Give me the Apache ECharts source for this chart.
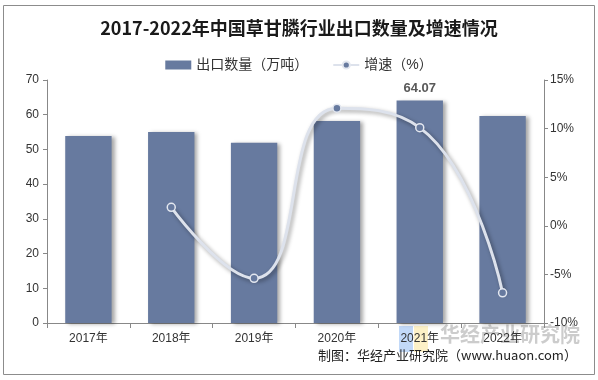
<!DOCTYPE html>
<html><head><meta charset="utf-8">
<script src="https://cdn.jsdelivr.net/npm/echarts@6/dist/echarts.min.js"></script>
<style>html,body{margin:0;padding:0;background:#fff}#c{width:598px;height:380px}</style>
</head><body><div id="c"></div>
<script>
const categories = ['2017年','2018年','2019年','2020年','2021年','2022年'];
const exportVolume = [53.9, 55.0, 51.9, 58.2, 64.07, 59.6];
const growthRate = [null, 1.9, -5.4, 12.1, 10.1, -6.9];
const leftTicks = {min:0, max:70, interval:10};
const rightTicks = {min:-10, max:15, interval:5};

const chart = echarts.init(document.getElementById('c'));
const font = '"Liberation Sans", Arial, "Noto Sans CJK SC", sans-serif';
chart.setOption({
  animation:false,
  title:{text:'2017-2022年中国草甘膦行业出口数量及增速情况', left:'center', top:14,
    textStyle:{fontFamily:'"Noto Sans CJK SC", sans-serif', fontSize:18, fontWeight:'bold', color:'#1a1a1a'}},
  legend:{top:53, left:'center', itemGap:24, itemWidth:26, itemHeight:9,
    textStyle:{fontFamily:font, fontSize:14, color:'#333'},
    data:[{name:'出口数量（万吨）', icon:'rect'}, {name:'增速（%）'}]},
  grid:{left:47, right:54, top:80, bottom:57},
  xAxis:{type:'category', data:categories,
    axisLine:{lineStyle:{color:'#888'}}, axisTick:{show:true, lineStyle:{color:'#888'}},
    axisLabel:{color:'#333', fontSize:12, fontFamily:font, margin:10}},
  yAxis:[
    {type:'value', min:leftTicks.min, max:leftTicks.max, interval:leftTicks.interval,
     axisLine:{show:true, lineStyle:{color:'#888'}}, axisTick:{show:true, length:4, lineStyle:{color:'#888'}},
     splitLine:{show:false}, axisLabel:{color:'#333', fontSize:12, fontFamily:font, margin:8}},
    {type:'value', min:rightTicks.min, max:rightTicks.max, interval:rightTicks.interval,
     axisLine:{show:true, lineStyle:{color:'#888'}}, axisTick:{show:true, length:4, lineStyle:{color:'#888'}},
     splitLine:{show:false}, axisLabel:{color:'#333', fontSize:12, fontFamily:font, margin:6, formatter:'{value}%'}}
  ],
  series:[
    {name:'出口数量（万吨）', type:'bar', data:exportVolume, barWidth:'56%',
     itemStyle:{color:'#677a9f', shadowColor:'rgba(0,0,0,0.35)', shadowBlur:4, shadowOffsetX:3, shadowOffsetY:1},
     label:{show:true, position:'top', distance:6, fontSize:13, fontWeight:'bold', color:'#595959', fontFamily:font,
       formatter:p => p.dataIndex === 4 ? p.value.toFixed(2) : ''}},
    {name:'增速（%）', type:'line', yAxisIndex:1, data:growthRate, smooth:0.5,
     symbol:'circle', symbolSize:8,
     lineStyle:{color:'#dde2ec', width:3, shadowColor:'rgba(0,0,0,0.4)', shadowBlur:4, shadowOffsetX:2, shadowOffsetY:2},
     itemStyle:{color:'#677a9f', borderColor:'#e4e8f0', borderWidth:1.5}}
  ],
  graphic:[
    {type:'rect', shape:{x:3.5, y:5.5, width:591, height:369}, style:{fill:'none', stroke:'#8c8c8c', lineWidth:1}, z:-1},
    {type:'rect', shape:{x:399, y:326, width:14, height:26}, style:{fill:'rgba(120,170,240,0.45)'}},
    {type:'rect', shape:{x:414, y:326, width:14, height:26}, style:{fill:'rgba(250,225,130,0.45)'}},
    {type:'text', left:440, top:324, style:{text:'华经产业研究院', fill:'rgba(170,170,170,0.6)', fontSize:20, fontWeight:'bold', fontFamily:'"Noto Sans CJK SC", sans-serif'}},
    {type:'text', left:318, top:349, style:{text:'制图：华经产业研究院（www.huaon.com）', fill:'#222', fontSize:13, fontFamily:'"Noto Sans CJK SC", sans-serif'}}
  ]
});
</script></body></html>
